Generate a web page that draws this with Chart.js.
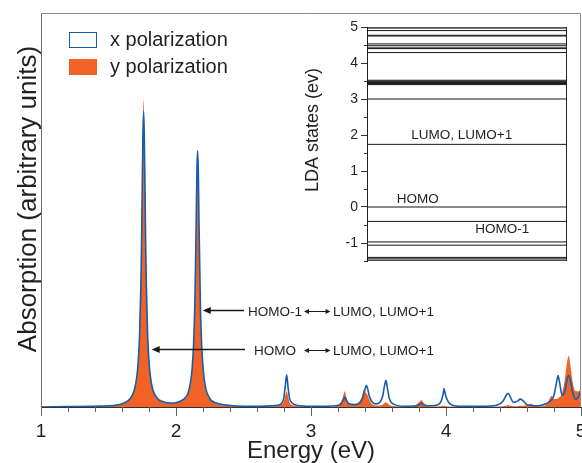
<!DOCTYPE html>
<html>
<head>
<meta charset="utf-8">
<script src="https://cdn.jsdelivr.net/npm/chart.js@4.4.0/dist/chart.umd.min.js"></script>
<style>
  html, body { margin: 0; padding: 0; background: #fff; }
  #wrap { position: relative; width: 582px; height: 463px; overflow: hidden; }
  #spectrum { position: absolute; left: 0; top: 0; }
  #levels { position: absolute; left: 290px; top: 13px; }
</style>
</head>
<body>
<div id="wrap">
  <canvas id="spectrum" width="582" height="463"></canvas>
  <canvas id="levels" width="290" height="260"></canvas>
</div>
<script>
// photon energy grid (eV), shared by both polarizations
const energy = [
  1.00, 1.20, 1.40, 1.50,
  1.56, 1.62, 1.66, 1.69, 1.71, 1.72, 1.73, 1.74, 1.745, 1.75, 1.755, 1.76, 1.765, 1.77, 1.775, 1.78, 1.79, 1.80, 1.82, 1.86, 1.90, 1.96,
  2.00, 2.04, 2.07, 2.09, 2.11, 2.12, 2.13, 2.14, 2.145, 2.15, 2.155, 2.16, 2.165, 2.17, 2.18, 2.19, 2.21, 2.25, 2.30, 2.40,
  2.50, 2.60, 2.70, 2.76, 2.79, 2.80, 2.81, 2.82, 2.83, 2.84, 2.86, 2.90, 3.00, 3.10,
  3.18, 3.22, 3.24, 3.25, 3.26, 3.28, 3.32, 3.36, 3.38, 3.39, 3.40, 3.41, 3.42, 3.43, 3.45, 3.48,
  3.51, 3.53, 3.545, 3.555, 3.565, 3.58, 3.62, 3.70, 3.78, 3.81, 3.82, 3.83, 3.86, 3.92,
  3.96, 3.98, 3.985, 3.99, 4.00, 4.03, 4.10, 4.20, 4.30, 4.38,
  4.42, 4.45, 4.46, 4.47, 4.50, 4.53, 4.55, 4.57, 4.60, 4.63, 4.66, 4.70,
  4.74, 4.76, 4.78, 4.80, 4.82, 4.83, 4.84, 4.86, 4.88, 4.90, 4.91, 4.92, 4.94, 4.96, 4.98, 5.00
];

// absorption, x polarization (arb. units)
const xPol = [
  0.000, 0.001, 0.002, 0.003,
  0.005, 0.011, 0.021, 0.042, 0.078, 0.115, 0.18, 0.31, 0.42, 0.56, 0.69, 0.75, 0.69, 0.56, 0.42, 0.31, 0.18, 0.115, 0.056, 0.023, 0.014, 0.010,
  0.011, 0.016, 0.024, 0.036, 0.068, 0.10, 0.158, 0.27, 0.365, 0.48, 0.60, 0.65, 0.60, 0.48, 0.27, 0.158, 0.068, 0.022, 0.010, 0.004,
  0.002, 0.002, 0.003, 0.005, 0.013, 0.026, 0.055, 0.082, 0.050, 0.024, 0.010, 0.004, 0.002, 0.002,
  0.003, 0.008, 0.018, 0.025, 0.018, 0.008, 0.006, 0.010, 0.020, 0.032, 0.045, 0.055, 0.046, 0.030, 0.014, 0.008,
  0.012, 0.026, 0.055, 0.068, 0.050, 0.022, 0.006, 0.002, 0.003, 0.008, 0.010, 0.007, 0.003, 0.004,
  0.012, 0.035, 0.047, 0.040, 0.026, 0.008, 0.002, 0.002, 0.002, 0.005,
  0.014, 0.032, 0.035, 0.030, 0.012, 0.015, 0.020, 0.016, 0.006, 0.004, 0.003, 0.004,
  0.008, 0.012, 0.018, 0.030, 0.065, 0.080, 0.065, 0.030, 0.040, 0.075, 0.080, 0.070, 0.035, 0.020, 0.025, 0.045
];

// absorption, y polarization (arb. units)
const yPol = [
  0.000, 0.001, 0.002, 0.003,
  0.006, 0.011, 0.022, 0.044, 0.081, 0.12, 0.19, 0.33, 0.44, 0.58, 0.72, 0.78, 0.72, 0.58, 0.44, 0.33, 0.19, 0.12, 0.058, 0.023, 0.013, 0.010,
  0.011, 0.015, 0.023, 0.035, 0.065, 0.096, 0.15, 0.26, 0.35, 0.46, 0.57, 0.62, 0.57, 0.46, 0.26, 0.15, 0.065, 0.021, 0.009, 0.003,
  0.002, 0.001, 0.002, 0.003, 0.008, 0.015, 0.030, 0.040, 0.028, 0.013, 0.005, 0.002, 0.001, 0.001,
  0.002, 0.010, 0.030, 0.040, 0.028, 0.010, 0.006, 0.015, 0.030, 0.043, 0.040, 0.035, 0.030, 0.020, 0.008, 0.004,
  0.004, 0.006, 0.010, 0.012, 0.010, 0.005, 0.002, 0.001, 0.006, 0.016, 0.018, 0.012, 0.003, 0.001,
  0.002, 0.003, 0.003, 0.003, 0.002, 0.001, 0.001, 0.001, 0.001, 0.001,
  0.002, 0.004, 0.005, 0.004, 0.002, 0.002, 0.003, 0.003, 0.005, 0.008, 0.003, 0.002,
  0.005, 0.015, 0.028, 0.020, 0.020, 0.022, 0.025, 0.035, 0.070, 0.120, 0.130, 0.110, 0.060, 0.040, 0.040, 0.040
];

// LDA single-particle levels (eV) for the inset
const ldaLevels = [
  5.00, 4.97, 4.90, 4.77, 4.75, 4.53, 4.48, 4.42, 4.40, 4.29,
  3.52, 3.49, 3.46, 3.43, 3.40, 3.00,
  1.74, 0.00, -0.40, -0.97, -1.06, -1.40, -1.44, -1.48
];
const levelNames = ['LUMO, LUMO+1', 'HOMO', 'HOMO-1'];

const FONT = "'Liberation Sans', Arial, Helvetica, sans-serif";
const TEXT = '#231f20';
const BLUE = '#165ea9';
const ORANGE = '#f26125';

function isWhole(v) {
  return Math.abs(v - Math.round(v)) < 1e-6;
}

// short ticks for the non-integer steps of an axis
const minorTicks = {
  id: 'minorTicks',
  afterDraw(chart, args, opts) {
    const scale = chart.scales[opts.axis];
    const ctx = chart.ctx;
    ctx.save();
    ctx.strokeStyle = opts.color;
    ctx.lineWidth = 1;
    ctx.beginPath();
    scale.ticks.forEach(t => {
      if (isWhole(t.value)) return;
      const p = Math.round(scale.getPixelForValue(t.value)) + 0.5;
      if (scale.isHorizontal()) {
        ctx.moveTo(p, scale.top);
        ctx.lineTo(p, scale.top + opts.length);
      } else {
        ctx.moveTo(scale.right, p);
        ctx.lineTo(scale.right - opts.length, p);
      }
    });
    ctx.stroke();
    ctx.restore();
  }
};

function arrowHead(ctx, x, y, dir, len, half) {
  ctx.beginPath();
  ctx.moveTo(x, y);
  ctx.lineTo(x + dir * len, y - half);
  ctx.lineTo(x + dir * len, y + half);
  ctx.closePath();
  ctx.fill();
}

function sideTitle(ctx, text, x, y, size) {
  ctx.save();
  ctx.translate(x, y);
  ctx.rotate(-Math.PI / 2);
  ctx.fillStyle = TEXT;
  ctx.font = size + 'px ' + FONT;
  ctx.textAlign = 'center';
  ctx.textBaseline = 'middle';
  ctx.fillText(text, 0, 0);
  ctx.restore();
}

// frame, legend and transition labels of the spectrum
const spectrumNotes = {
  id: 'spectrumNotes',
  afterDraw(chart) {
    const ctx = chart.ctx;
    const a = chart.chartArea;
    const xs = chart.scales.x, ys = chart.scales.y;
    ctx.save();

    ctx.strokeStyle = '#8c8c8c';
    ctx.lineWidth = 1;
    ctx.beginPath();
    ctx.moveTo(a.left, a.top + 0.5);
    ctx.lineTo(a.right - 0.5, a.top + 0.5);
    ctx.lineTo(a.right - 0.5, a.bottom);
    ctx.stroke();

    sideTitle(ctx, 'Absorption (arbitrary units)', 29, 199, 26);

    // legend
    ctx.fillStyle = '#fff';
    ctx.fillRect(69.5, 32.5, 27, 15);
    ctx.strokeStyle = BLUE;
    ctx.strokeRect(69.5, 32.5, 27, 15);
    ctx.fillStyle = ORANGE;
    ctx.fillRect(69, 59, 28, 16);
    ctx.fillStyle = TEXT;
    ctx.font = '20px ' + FONT;
    ctx.textBaseline = 'middle';
    ctx.textAlign = 'left';
    chart.data.datasets.forEach((ds, i) => {
      ctx.fillText(ds.label, 110, 40 + i * 27);
    });

    // transitions: arrow tip/tail energy, height, left edge of label
    const notes = [
      { tip: 2.198, tail: 2.504, y: 0.247, from: 'HOMO-1', textAt: 2.533 },
      { tip: 1.820, tail: 2.511, y: 0.148, from: 'HOMO', textAt: 2.578 }
    ];
    ctx.font = '13.5px ' + FONT;
    ctx.strokeStyle = '#1a1a1a';
    ctx.fillStyle = '#1a1a1a';
    notes.forEach(n => {
      const y = Math.round(ys.getPixelForValue(n.y)) + 0.5;
      const tip = xs.getPixelForValue(n.tip);
      const tail = xs.getPixelForValue(n.tail);
      ctx.lineWidth = 1.3;
      ctx.beginPath();
      ctx.moveTo(tail, y);
      ctx.lineTo(tip + 6, y);
      ctx.stroke();
      arrowHead(ctx, tip, y, 1, 8, 3.5);

      const ty = y + 2;
      ctx.fillStyle = TEXT;
      ctx.fillText(n.from, xs.getPixelForValue(n.textAt), ty);
      // double-headed arrow between the two orbitals
      const d0 = xs.getPixelForValue(2.948), d1 = xs.getPixelForValue(3.145);
      ctx.lineWidth = 1;
      ctx.beginPath();
      ctx.moveTo(d0 + 3, ty - 1);
      ctx.lineTo(d1 - 3, ty - 1);
      ctx.stroke();
      arrowHead(ctx, d0, ty - 1, 1, 5, 2.5);
      arrowHead(ctx, d1, ty - 1, -1, 5, 2.5);
      ctx.fillText(levelNames[0], xs.getPixelForValue(3.163), ty);
      ctx.fillStyle = '#1a1a1a';
    });
    ctx.restore();
  }
};

// right edge, axis title and state names of the level diagram
const levelNotes = {
  id: 'levelNotes',
  afterDraw(chart) {
    const ctx = chart.ctx;
    const a = chart.chartArea;
    const xs = chart.scales.x, ys = chart.scales.y;
    ctx.save();
    ctx.strokeStyle = '#222';
    ctx.lineWidth = 1;
    ctx.beginPath();
    ctx.moveTo(Math.round(a.right) + 0.5, a.top);
    ctx.lineTo(Math.round(a.right) + 0.5, a.bottom);
    ctx.stroke();

    sideTitle(ctx, 'LDA states (ev)', 23, 117, 18);

    const spots = [[0.476, 1.99], [0.255, 0.21], [0.68, -0.62]];
    ctx.fillStyle = TEXT;
    ctx.font = '13.5px ' + FONT;
    ctx.textAlign = 'center';
    ctx.textBaseline = 'middle';
    levelNames.forEach((name, i) => {
      ctx.fillText(name, xs.getPixelForValue(spots[i][0]), ys.getPixelForValue(spots[i][1]));
    });
    ctx.restore();
  }
};

const toPoints = values => energy.map((e, i) => ({ x: e, y: values[i] }));

new Chart(document.getElementById('spectrum'), {
  type: 'line',
  data: {
    datasets: [
      {
        label: 'x polarization',
        data: toPoints(xPol),
        borderColor: BLUE,
        backgroundColor: '#fff',
        borderWidth: 1.6,
        fill: false,
        pointRadius: 0,
        cubicInterpolationMode: 'monotone',
        order: 0
      },
      {
        label: 'y polarization',
        data: toPoints(yPol),
        borderColor: ORANGE,
        backgroundColor: ORANGE,
        borderWidth: 0,
        fill: 'origin',
        pointRadius: 0,
        cubicInterpolationMode: 'monotone',
        order: 1
      }
    ]
  },
  options: {
    responsive: false,
    animation: false,
    events: [],
    layout: { padding: { top: 13, right: 1, left: 0, bottom: 0 } },
    plugins: {
      legend: { display: false },
      tooltip: { enabled: false },
      minorTicks: { axis: 'x', length: 5, color: '#666' }
    },
    scales: {
      x: {
        type: 'linear',
        min: 1,
        max: 5,
        afterFit: s => { s.height = 56; s.paddingLeft = 0; s.paddingRight = 0; },
        ticks: {
          stepSize: 0.2,
          autoSkip: false,
          maxRotation: 0,
          padding: 4,
          color: TEXT,
          font: { family: FONT, size: 19 },
          callback: v => isWhole(v) ? String(Math.round(v)) : ''
        },
        grid: {
          drawOnChartArea: false,
          tickLength: 9,
          tickColor: c => isWhole(c.tick.value) ? '#666' : 'rgba(0,0,0,0)'
        },
        border: { color: '#333', width: 1 },
        title: {
          display: true,
          text: 'Energy (eV)',
          color: TEXT,
          font: { family: FONT, size: 24, lineHeight: 1 },
          padding: { top: 0, bottom: 0 }
        }
      },
      y: {
        min: 0,
        max: 1,
        afterFit: s => { s.width = 41; s.paddingTop = 0; s.paddingBottom = 0; },
        ticks: { display: false },
        grid: { display: false },
        border: { color: '#6e6e6e', width: 1 }
      }
    }
  },
  plugins: [minorTicks, spectrumNotes]
});

new Chart(document.getElementById('levels'), {
  type: 'line',
  data: {
    datasets: ldaLevels.map(e => ({
      data: [{ x: 0, y: e }, { x: 1, y: e }],
      borderColor: '#151515',
      borderWidth: 1,
      pointRadius: 0
    }))
  },
  options: {
    responsive: false,
    animation: false,
    events: [],
    layout: { padding: { top: 14, right: 14, bottom: 12, left: 0 } },
    plugins: {
      legend: { display: false },
      tooltip: { enabled: false },
      minorTicks: { axis: 'y', length: 3, color: '#333' }
    },
    scales: {
      x: { type: 'linear', min: 0, max: 1, display: false },
      y: {
        min: -1.5,
        max: 5,
        afterFit: s => { s.width = 77; s.paddingTop = 0; s.paddingBottom = 0; },
        ticks: {
          stepSize: 0.5,
          autoSkip: false,
          padding: 3,
          color: TEXT,
          font: { family: FONT, size: 14 },
          callback: v => isWhole(v) ? String(Math.round(v)) : ''
        },
        grid: {
          drawOnChartArea: false,
          tickLength: 6,
          tickColor: c => isWhole(c.tick.value) ? '#333' : 'rgba(0,0,0,0)'
        },
        border: { color: '#222', width: 1 }
      }
    }
  },
  plugins: [minorTicks, levelNotes]
});
</script>
</body>
</html>
